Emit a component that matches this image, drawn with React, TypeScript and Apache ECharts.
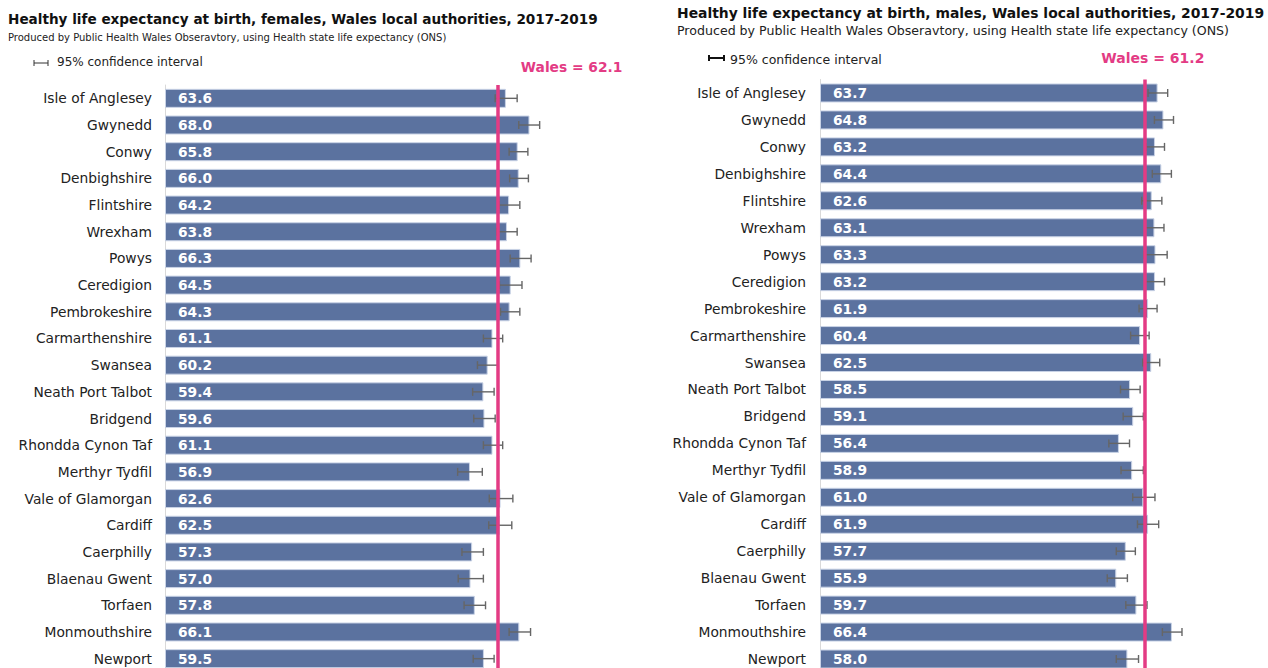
import React, { useEffect, useRef } from "react";
import * as echarts from "echarts";

const categories = [
  "Isle of Anglesey", "Gwynedd", "Conwy", "Denbighshire", "Flintshire", "Wrexham",
  "Powys", "Ceredigion", "Pembrokeshire", "Carmarthenshire", "Swansea",
  "Neath Port Talbot", "Bridgend", "Rhondda Cynon Taf", "Merthyr Tydfil",
  "Vale of Glamorgan", "Cardiff", "Caerphilly", "Blaenau Gwent", "Torfaen",
  "Monmouthshire", "Newport",
];

const femaleValues = [63.6, 68.0, 65.8, 66.0, 64.2, 63.8, 66.3, 64.5, 64.3, 61.1, 60.2, 59.4, 59.6, 61.1, 56.9, 62.6, 62.5, 57.3, 57.0, 57.8, 66.1, 59.5];
const femaleLower = [61.6, 66.0, 64.2, 64.3, 62.3, 61.9, 64.4, 62.4, 62.6, 59.4, 58.3, 57.4, 57.6, 59.4, 54.6, 60.5, 60.4, 55.4, 54.7, 55.8, 64.2, 57.5];
const femaleUpper = [65.7, 69.9, 67.7, 67.8, 66.2, 65.7, 68.3, 66.6, 66.2, 63.0, 62.1, 61.4, 61.6, 63.0, 59.2, 64.9, 64.7, 59.4, 59.4, 59.8, 68.2, 61.4];

const maleValues = [63.7, 64.8, 63.2, 64.4, 62.6, 63.1, 63.3, 63.2, 61.9, 60.4, 62.5, 58.5, 59.1, 56.4, 58.9, 61.0, 61.9, 57.7, 55.9, 59.7, 66.4, 58.0];
const maleLower = [61.9, 63.1, 61.5, 62.7, 60.7, 61.3, 61.1, 61.4, 60.2, 58.6, 60.9, 56.7, 57.2, 54.5, 56.8, 59.0, 59.9, 55.9, 54.2, 57.7, 64.6, 55.9];
const maleUpper = [65.6, 66.7, 65.0, 66.3, 64.5, 64.9, 65.5, 65.0, 63.6, 62.1, 64.1, 60.4, 61.0, 58.4, 61.0, 63.2, 63.9, 59.5, 58.0, 61.7, 68.3, 60.1];

const walesFemale = 62.1;
const walesMale = 61.2;

const titleFemale = "Healthy life expectancy at birth, females, Wales local authorities, 2017-2019";
const titleMale = "Healthy life expectancy at birth, males, Wales local authorities, 2017-2019";
const subtitle = "Produced by Public Health Wales Obseravtory, using Health state life expectancy (ONS)";
const legendText = "95% confidence interval";

const FONT = "DejaVu Sans";
const BAR = "#5b729f";
const PINK = "#e33b84";

function errorRender(params: any, api: any) {
  const cat = api.value(0);
  const p1 = api.coord([api.value(1), cat]);
  const p2 = api.coord([api.value(2), cat]);
  const h = 4;
  const style = { stroke: "#666", lineWidth: 1.4 };
  return {
    type: "group",
    children: [
      { type: "line", shape: { x1: p1[0], y1: p1[1], x2: p2[0], y2: p2[1] }, style },
      { type: "line", shape: { x1: p1[0], y1: p1[1] - h, x2: p1[0], y2: p1[1] + h }, style },
      { type: "line", shape: { x1: p2[0], y1: p2[1] - h, x2: p2[0], y2: p2[1] + h }, style },
    ],
  };
}

function barSeries(idx: number, values: number[], wales: number) {
  return {
    type: "bar",
    xAxisIndex: idx,
    yAxisIndex: idx,
    data: values,
    barWidth: 19,
    itemStyle: { color: BAR, borderColor: "#c9d3e6", borderWidth: 1 },
    label: {
      show: true,
      position: "insideLeft",
      distance: 13,
      color: "#fff",
      fontFamily: FONT,
      fontWeight: "bold",
      fontSize: 13.8,
      formatter: (p: any) => Number(p.value).toFixed(1),
    },
    z: 2,
    markLine: {
      silent: true,
      symbol: "none",
      z: 10,
      label: { show: false },
      emphasis: { disabled: true },
      lineStyle: { color: PINK, width: 3.5, type: "solid", opacity: 1 },
      data: [{ xAxis: wales }],
    },
  };
}

function errSeries(idx: number, lower: number[], upper: number[]) {
  return {
    type: "custom",
    xAxisIndex: idx,
    yAxisIndex: idx,
    renderItem: errorRender,
    encode: { x: [1, 2], y: 0 },
    data: categories.map((c, i) => [i, lower[i], upper[i]]),
    z: 3,
  };
}

function yAxis(idx: number, margin: number) {
  return {
    type: "category",
    gridIndex: idx,
    data: categories,
    inverse: true,
    axisTick: { show: false },
    axisLine: { show: true, lineStyle: { color: "#d9d9d9", width: 1 } },
    axisLabel: { color: "#222", fontFamily: FONT, fontSize: 13.8, margin },
  };
}

export default function App() {
  const ref = useRef<HTMLDivElement>(null);
  useEffect(() => {
    if (!ref.current) return;
    const chart = echarts.init(ref.current, undefined, { renderer: "svg" });
    chart.setOption({
      animation: false,
      grid: [
        { left: 165, top: 85, width: 428.8, height: 587 },
        { left: 820, top: 79.5, width: 424, height: 593 },
      ],
      xAxis: [
        { type: "value", gridIndex: 0, min: 0, max: 80, show: false },
        { type: "value", gridIndex: 1, min: 0, max: 80, show: false },
      ],
      yAxis: [yAxis(0, 13), yAxis(1, 14)],
      series: [
        barSeries(0, femaleValues, walesFemale),
        errSeries(0, femaleLower, femaleUpper),
        barSeries(1, maleValues, walesMale),
        errSeries(1, maleLower, maleUpper),
      ],
    });
    const wx0 = chart.convertToPixel({ xAxisIndex: 0 }, walesFemale) as number;
    const wx1 = chart.convertToPixel({ xAxisIndex: 1 }, walesMale) as number;
    chart.setOption({
      graphic: [
        { type: "text", left: 8, top: 12, style: { text: titleFemale, font: `bold 13.6px "${FONT}"`, fill: "#111" } },
        { type: "text", left: 8, top: 32, style: { text: subtitle, font: `10px "${FONT}"`, fill: "#222" } },
        { type: "text", left: 677, top: 6, style: { text: titleMale, font: `bold 13.9px "${FONT}"`, fill: "#111" } },
        { type: "text", left: 677, top: 24, style: { text: subtitle, font: `12.6px "${FONT}"`, fill: "#222" } },
        { type: "line", shape: { x1: 34, y1: 63, x2: 48, y2: 63 }, style: { stroke: "#333", lineWidth: 1 } },
        { type: "line", shape: { x1: 34, y1: 60, x2: 34, y2: 66 }, style: { stroke: "#333", lineWidth: 1 } },
        { type: "line", shape: { x1: 48, y1: 60, x2: 48, y2: 66 }, style: { stroke: "#333", lineWidth: 1 } },
        { type: "text", left: 57, top: 56, style: { text: legendText, font: `12px "${FONT}"`, fill: "#222" } },
        { type: "line", shape: { x1: 709, y1: 58, x2: 724, y2: 58 }, style: { stroke: "#111", lineWidth: 2 } },
        { type: "line", shape: { x1: 709, y1: 55, x2: 709, y2: 61 }, style: { stroke: "#111", lineWidth: 2 } },
        { type: "line", shape: { x1: 724, y1: 55, x2: 724, y2: 61 }, style: { stroke: "#111", lineWidth: 2 } },
        { type: "text", left: 730, top: 53, style: { text: legendText, font: `12.5px "${FONT}"`, fill: "#222" } },
        { type: "text", x: wx0 + 23, y: 67, style: { text: `Wales = ${walesFemale.toFixed(1)}`, font: `bold 13.8px "${FONT}"`, fill: PINK, verticalAlign: "middle" } },
        { type: "text", x: wx1 - 43, y: 58, style: { text: `Wales = ${walesMale.toFixed(1)}`, font: `bold 14px "${FONT}"`, fill: PINK, verticalAlign: "middle" } },
      ],
    });
    return () => chart.dispose();
  }, []);
  return (
    <div
      ref={ref}
      style={{ position: "fixed", left: 0, top: 0, width: 1268, height: 680, background: "#fff" }}
    />
  );
}
